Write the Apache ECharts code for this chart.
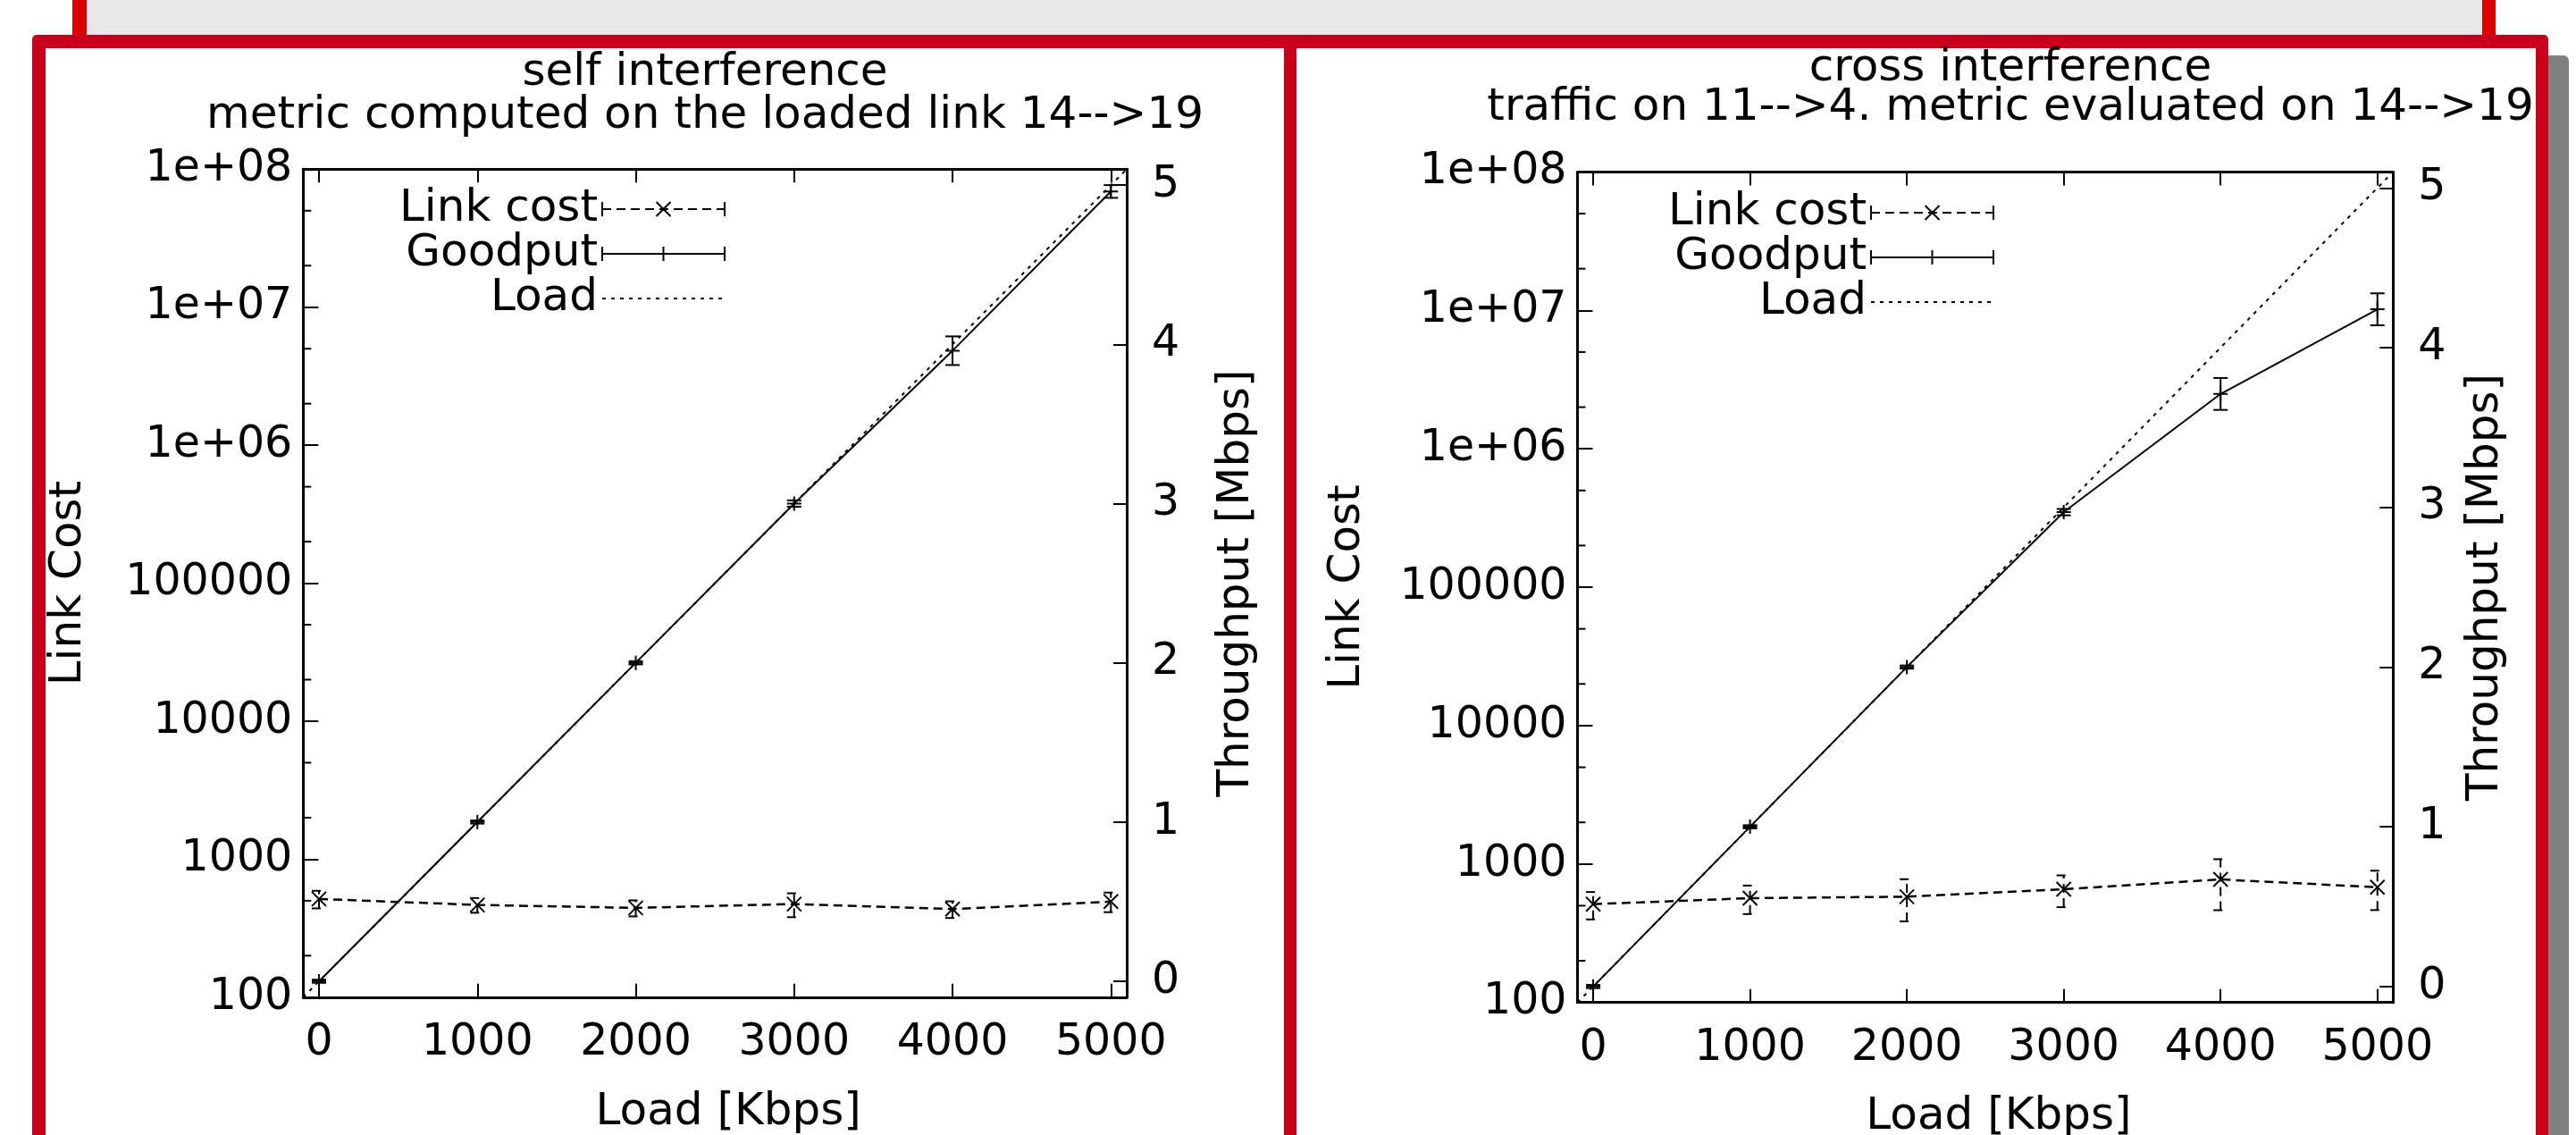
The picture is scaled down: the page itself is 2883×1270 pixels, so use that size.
<!DOCTYPE html>
<html><head><meta charset="utf-8">
<script src="https://cdn.jsdelivr.net/npm/echarts@6/dist/echarts.min.js"></script>
<style>html,body{margin:0;padding:0;background:#fff;}#c{width:2883px;height:1270px;}</style>
</head><body><div id="c"></div>
<script>
// ---- data ----
const loads = [0, 1000, 2000, 3000, 4000, 5000];
const selfLinkCost = [515, 466, 444, 473, 435, 493];
const selfLinkCostErr = [75, 57, 59, 93, 60, 80];
const selfGoodput = [0, 1.0, 2.0, 3.0, 3.96, 4.96];
const selfGoodputErr = [0.01, 0.01, 0.01, 0.02, 0.09, 0.04];
const crossLinkCost = [513, 567, 581, 658, 774, 680];
const crossLinkCostErr = [115, 132, 196, 170, 310, 215];
const crossGoodput = [0, 1.0, 2.0, 2.97, 3.71, 4.24];
const crossGoodputErr = [0.01, 0.01, 0.01, 0.02, 0.1, 0.1];
const loadLineX = [-100, 5100];
const loadLineY = [-0.1, 5.1];
const costTickLabels = ['100', '1000', '10000', '100000', '1e+06', '1e+07', '1e+08'];
const costMinorTicks = [200, 500, 2000, 5000, 20000, 50000, 2e5, 5e5, 2e6, 5e6, 2e7, 5e7];
const titleLines = [
  ['self interference', 'metric computed on the loaded link 14-->19'],
  ['cross interference', 'traffic on 11-->4. metric evaluated on 14-->19']
];
const legendNames = ['Link cost', 'Goodput', 'Load'];

// ---- layout ----
const FONT = 'DejaVu Sans';
const panels = [
  { cost: selfLinkCost, costErr: selfLinkCostErr, good: selfGoodput, goodErr: selfGoodputErr,
    grid: { left: 339.3, top: 189.3, width: 921.7, height: 926.5 },
    title: { x: 789, y1: 82, y2: 130 }, legend: { right: 2071, top: 209 },
    costGap: 237, tputGap: 98, loadGap: 104 },
  { cost: crossLinkCost, costErr: crossLinkCostErr, good: crossGoodput, goodErr: crossGoodputErr,
    grid: { left: 1765.5, top: 192.4, width: 912.8, height: 929.3 },
    title: { x: 2250, y1: 77, y2: 121 }, legend: { right: 651, top: 213 },
    costGap: 232, tputGap: 79, loadGap: 103 }
];

const X_SYM = 'path://M0,0L16,16M0,16L16,0';
const P_SYM = 'path://M8,0L8,16M0,8L16,8';
const ICON_W = 137, ICON_H = 16;

function dashSegs(x0, x1, on, off, y) {
  let s = '';
  for (let x = x0; x < x1; x += on + off) s += 'M' + x + ',' + y + 'L' + Math.min(x + on, x1) + ',' + y;
  return s;
}
const caps = 'M0,0L0,' + ICON_H + 'M' + ICON_W + ',0L' + ICON_W + ',' + ICON_H;
const cx = ICON_W / 2, cy = ICON_H / 2, hs = 8;
const ICON_COST = 'path://' + caps + dashSegs(0, ICON_W, 10, 6, cy) +
  'M' + (cx - hs) + ',0L' + (cx + hs) + ',' + ICON_H + 'M' + (cx - hs) + ',' + ICON_H + 'L' + (cx + hs) + ',0';
const ICON_GOOD = 'path://' + caps + 'M0,' + cy + 'L' + ICON_W + ',' + cy +
  'M' + cx + ',0L' + cx + ',' + ICON_H + 'M' + (cx - hs) + ',' + cy + 'L' + (cx + hs) + ',' + cy;

function errRender(dash) {
  return function (params, api) {
    const x = api.value(0);
    const p1 = api.coord([x, api.value(1)]);
    const p2 = api.coord([x, api.value(2)]);
    const w = 8;
    const st = { stroke: '#000', lineWidth: 2, lineDash: dash };
    return { type: 'group', children: [
      { type: 'line', shape: { x1: p1[0], y1: p1[1], x2: p2[0], y2: p2[1] }, style: st },
      { type: 'line', shape: { x1: p1[0] - w, y1: p1[1], x2: p1[0] + w, y2: p1[1] }, style: st },
      { type: 'line', shape: { x1: p2[0] - w, y1: p2[1], x2: p2[0] + w, y2: p2[1] }, style: st }
    ] };
  };
}
function minorRender(params, api) {
  const y = api.coord([0, api.value(1)])[1];
  const x0 = params.coordSys.x;
  return { type: 'line', shape: { x1: x0, y1: y, x2: x0 + 9, y2: y }, style: { stroke: '#000', lineWidth: 2 } };
}

const grids = [], xAxes = [], yAxes = [], series = [], legends = [], graphics = [];

// decorations
graphics.push(
  { type: 'rect', z: -30, shape: { x: 1460, y: 62, width: 1415, height: 1300, r: 6 }, style: { fill: '#808080' } },
  { type: 'rect', z: -29, shape: { x: 97, y: 0, width: 2681, height: 40 }, style: { fill: '#E8E8E8' } },
  { type: 'rect', z: -29, shape: { x: 81, y: 0, width: 16, height: 40 }, style: { fill: '#DD0000' } },
  { type: 'rect', z: -29, shape: { x: 2778, y: 0, width: 15, height: 40 }, style: { fill: '#DD0000' } },
  { type: 'rect', z: -28, shape: { x: 36, y: 39, width: 1415, height: 1300, r: 5 }, style: { fill: '#C8001C' } },
  { type: 'rect', z: -27, shape: { x: 51, y: 54, width: 1386, height: 1300 }, style: { fill: '#FFFFFF' } },
  { type: 'rect', z: -26, shape: { x: 1437, y: 39, width: 1415, height: 1300, r: 5 }, style: { fill: '#C8001C' } },
  { type: 'rect', z: -25, shape: { x: 1451, y: 54, width: 1387, height: 1300 }, style: { fill: '#FFFFFF' } }
);

panels.forEach((p, k) => {
  grids.push(Object.assign({ containLabel: false, outerBoundsMode: 'none' }, p.grid));
  graphics.push(
    { type: 'text', x: p.title.x, y: p.title.y1, style: { text: titleLines[k][0], fontSize: 50, fontFamily: FONT, fill: '#000', align: 'center', verticalAlign: 'middle' } },
    { type: 'text', x: p.title.x, y: p.title.y2, style: { text: titleLines[k][1], fontSize: 50, fontFamily: FONT, fill: '#000', align: 'center', verticalAlign: 'middle' } }
  );
  const axLine = { show: true, onZero: false, lineStyle: { color: '#000', width: 3 } };
  xAxes.push({
    type: 'value', gridIndex: k, position: 'bottom', min: loadLineX[0], max: loadLineX[1],
    axisLine: axLine, splitLine: { show: false },
    axisTick: { show: true, inside: true, length: 15, lineStyle: { color: '#000', width: 2 } },
    axisLabel: { margin: 27, fontSize: 49, fontFamily: FONT, color: '#000', showMinLabel: false, showMaxLabel: false, formatter: v => String(v) },
    name: 'Load [Kbps]', nameLocation: 'middle', nameGap: p.loadGap, nameMoveOverlap: false,
    nameTextStyle: { fontSize: 50, fontFamily: FONT, color: '#000', padding: [0, 0, 0, 30] }
  });
  xAxes.push({
    type: 'value', gridIndex: k, position: 'top', min: loadLineX[0], max: loadLineX[1],
    axisLine: axLine, splitLine: { show: false },
    axisTick: { show: true, inside: true, length: 15, lineStyle: { color: '#000', width: 2 } },
    axisLabel: { show: false }
  });
  yAxes.push({
    type: 'log', logBase: 10, gridIndex: k, position: 'left', min: 100, max: 1e8,
    axisLine: axLine, splitLine: { show: false }, minorTick: { show: false },
    axisTick: { show: true, inside: true, length: 17, lineStyle: { color: '#000', width: 2 } },
    axisLabel: { margin: 12, fontSize: 49, fontFamily: FONT, color: '#000',
      formatter: v => costTickLabels[Math.round(Math.log10(v)) - 2] },
    name: 'Link Cost', nameLocation: 'middle', nameRotate: 90, nameGap: p.costGap, nameMoveOverlap: false,
    nameTextStyle: { fontSize: 50, fontFamily: FONT, color: '#000' }
  });
  yAxes.push({
    type: 'value', gridIndex: k, position: 'right', min: loadLineY[0], max: loadLineY[1],
    axisLine: axLine, splitLine: { show: false },
    axisTick: { show: true, inside: true, length: 15, lineStyle: { color: '#000', width: 2 } },
    axisLabel: { margin: 28, fontSize: 49, fontFamily: FONT, color: '#000', showMinLabel: false, showMaxLabel: false, formatter: v => String(v) },
    name: 'Throughput [Mbps]', nameLocation: 'middle', nameRotate: 90, nameGap: p.tputGap, nameMoveOverlap: false,
    nameTextStyle: { fontSize: 50, fontFamily: FONT, color: '#000' }
  });
  const xi = 2 * k, yc = 2 * k, yt = 2 * k + 1;
  const symStyle = { color: '#000', borderColor: '#000', borderWidth: 2 };
  series.push(
    { type: 'line', name: 'Link cost', xAxisIndex: xi, yAxisIndex: yc,
      data: loads.map((x, i) => [x, p.cost[i]]), symbol: X_SYM, symbolSize: 16, showSymbol: true,
      lineStyle: { color: '#000', width: 2.5, type: [10, 6] }, itemStyle: symStyle, z: 4 },
    { type: 'custom', name: 'Link cost err', xAxisIndex: xi, yAxisIndex: yc, silent: true,
      data: loads.map((x, i) => [x, p.cost[i] - p.costErr[i], p.cost[i] + p.costErr[i]]),
      encode: { x: 0, y: [1, 2] }, renderItem: errRender([10, 6]), z: 4 },
    { type: 'line', name: 'Goodput', xAxisIndex: xi, yAxisIndex: yt,
      data: loads.map((x, i) => [x, p.good[i]]), symbol: P_SYM, symbolSize: 16, showSymbol: true,
      lineStyle: { color: '#000', width: 2 }, itemStyle: symStyle, z: 4 },
    { type: 'custom', name: 'Goodput err', xAxisIndex: xi, yAxisIndex: yt, silent: true,
      data: loads.map((x, i) => [x, p.good[i] - p.goodErr[i], p.good[i] + p.goodErr[i]]),
      encode: { x: 0, y: [1, 2] }, renderItem: errRender(null), z: 4 },
    { type: 'line', name: 'Load', xAxisIndex: xi, yAxisIndex: yt,
      data: loadLineX.map((x, i) => [x, loadLineY[i]]), symbol: 'none', showSymbol: false,
      lineStyle: { color: '#000', width: 2, type: [4, 6] }, z: 3 },
    { type: 'custom', name: 'minor', xAxisIndex: xi, yAxisIndex: yc, silent: true,
      data: costMinorTicks.map(v => [0, v]), encode: { x: 0, y: 1 }, renderItem: minorRender, z: 5 }
  );
  legends.push({
    orient: 'vertical', align: 'right', right: p.legend.right, top: p.legend.top, padding: 0,
    itemWidth: ICON_W, itemHeight: ICON_H, itemGap: 0, selectedMode: false, symbolKeepAspect: false,
    textStyle: { fontSize: 50, lineHeight: 50, fontFamily: FONT, color: '#000' },
    itemStyle: { color: 'rgba(0,0,0,0)', borderColor: '#000', borderWidth: 2 },
    data: [
      { name: legendNames[0], icon: ICON_COST },
      { name: legendNames[1], icon: ICON_GOOD },
      { name: legendNames[2], itemStyle: { color: 'rgba(0,0,0,0)', borderColor: 'rgba(0,0,0,0)', borderWidth: 0 } }
    ]
  });
});

const chart = echarts.init(document.getElementById('c'), null, { renderer: 'canvas' });
chart.setOption({
  animation: false,
  backgroundColor: '#ffffff',
  textStyle: { fontFamily: FONT, color: '#000' },
  grid: grids, xAxis: xAxes, yAxis: yAxes, series: series, legend: legends,
  graphic: { elements: graphics }
});
</script></body></html>
